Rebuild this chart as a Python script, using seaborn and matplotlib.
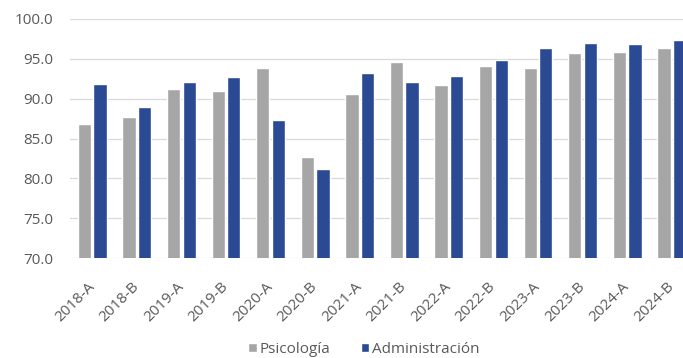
import matplotlib
matplotlib.use("Agg")
import matplotlib.pyplot as plt
import seaborn as sns
import pandas as pd

periodos = ["2018-A", "2018-B", "2019-A", "2019-B", "2020-A", "2020-B", "2021-A",
            "2021-B", "2022-A", "2022-B", "2023-A", "2023-B", "2024-A", "2024-B"]
psicologia = [86.8, 87.7, 91.2, 91.0, 93.8, 82.7, 90.6, 94.6, 91.7, 94.1, 93.8, 95.7, 95.9, 96.4]
administracion = [91.9, 88.9, 92.1, 92.7, 87.3, 81.2, 93.2, 92.1, 92.9, 94.9, 96.4, 97.0, 96.9, 97.4]
series = ["Psicología", "Administración"]
colores = ["#A6A6A6", "#2B4A94"]
yticks = [70.0, 75.0, 80.0, 85.0, 90.0, 95.0, 100.0]

df = pd.DataFrame({
    "Periodo": periodos * 2,
    "Valor": psicologia + administracion,
    "Programa": [series[0]] * len(periodos) + [series[1]] * len(periodos),
})

sns.set_theme(style="white")
plt.rcParams["font.family"] = ["Open Sans", "DejaVu Sans"]

fig = plt.figure(figsize=(6.83, 3.58), dpi=100)
ax = fig.add_axes([0.1025, 0.279, 0.9136, 0.668])

sns.barplot(data=df, x="Periodo", y="Valor", hue="Programa", palette=colores,
            width=0.7, gap=0.15, ax=ax, saturation=1, legend=True)

ax.set_ylim(70, 100)
ax.set_yticks(yticks)
ax.set_yticklabels([f"{v:.1f}" for v in yticks], fontsize=11, color="#595959")
ax.set_xlim(-0.5, len(periodos) - 0.5)
ax.grid(axis="y", color="#D9D9D9", linewidth=0.9)
ax.set_axisbelow(True)
for s in ax.spines.values():
    s.set_visible(False)
ax.tick_params(axis="both", length=0)
ax.tick_params(axis="y", pad=12)
ax.set_xlabel("")
ax.set_ylabel("")
for lbl in ax.get_xticklabels():
    lbl.set_rotation(45)
    lbl.set_ha("right")
    lbl.set_va("center")
    lbl.set_rotation_mode("anchor")
    lbl.set_fontsize(11)
    lbl.set_color("#595959")
ax.tick_params(axis="x", pad=19)

handles, labels = ax.get_legend_handles_labels()
ax.legend_.remove()
fig.legend(handles, labels, loc="center", bbox_to_anchor=(0.533, 0.024), ncol=2,
           frameon=False, fontsize=11, handlelength=0.55, handleheight=0.55,
           handletextpad=0.2, columnspacing=2.0, labelcolor="#595959")

fig.savefig("out.png", dpi=100)
